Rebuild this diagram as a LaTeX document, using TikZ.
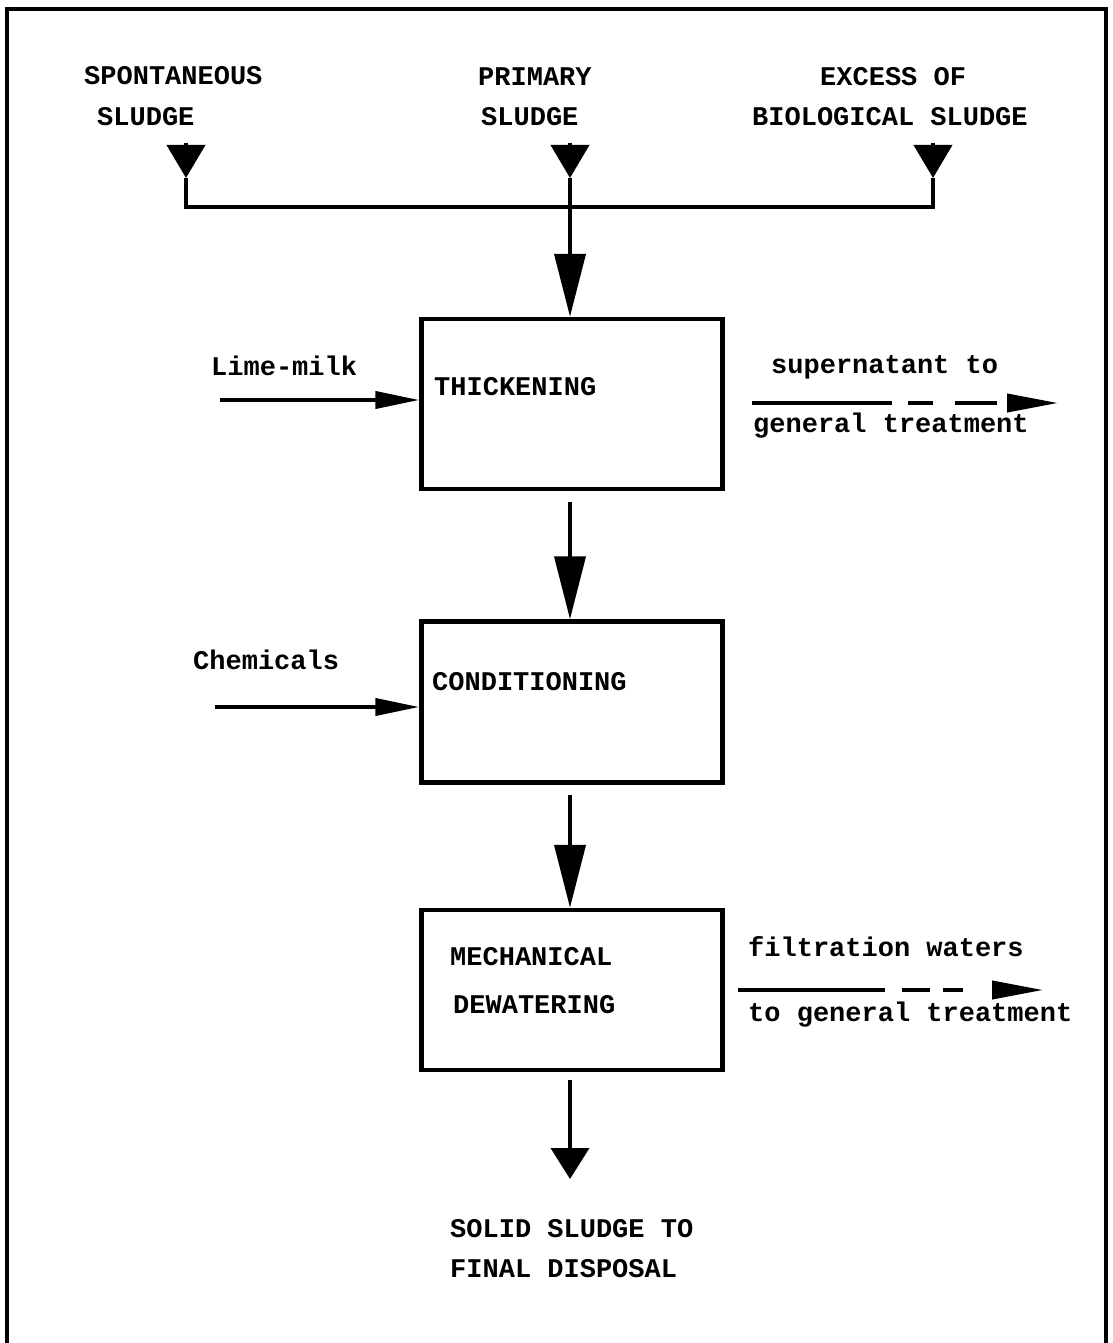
\documentclass[tikz,border=0pt]{standalone}
\usepackage{fontspec}
\setmonofont{Liberation Mono}
\usetikzlibrary{arrows.meta}
\begin{document}
\begin{tikzpicture}[x=1pt,y=-1pt,
  lbl/.style={font=\ttfamily\bfseries\fontsize{27}{31}\selectfont, inner sep=0pt, anchor=base west},
  procbox/.style={draw, line width=4.5pt, minimum width=301pt, inner sep=0pt},
  flow/.style={line width=4pt},
  srctip/.style={-{Triangle[length=33pt,width=38pt]}},
  bigtip/.style={-{Triangle[length=63pt,width=31pt]}},
  endtip/.style={-{Triangle[length=31pt,width=38pt]}},
  sidetip/.style={-{Triangle[length=44pt,width=17pt]}},
  outtip/.style={-{Triangle[length=51pt,width=18pt]}}
]
\useasboundingbox (0,0) rectangle (1112,1343);
% frame
\draw[line width=4pt] (7,1343) -- (7,9) -- (1106,9) -- (1106,1343);

% source labels
\node[lbl] (l1a) at (84,85) {SPONTANEOUS};
\node[lbl] (l1b) at (97,126) {SLUDGE};
\node[lbl] (l2a) at (478,86) {PRIMARY};
\node[lbl] (l2b) at (481,126) {SLUDGE};
\node[lbl] (l3a) at (820,86) {EXCESS OF};
\node[lbl] (l3b) at (752,126) {BIOLOGICAL SLUDGE};

% source coordinates
\coordinate (s1a) at (186,143);
\coordinate (s1b) at (186,178);
\coordinate (j1) at (186,207);
\coordinate (s2a) at (570,143);
\coordinate (s2b) at (570,178);
\coordinate (j2) at (570,207);
\coordinate (s3a) at (933,143);
\coordinate (s3b) at (933,178);
\coordinate (j3) at (933,207);

% boxes
\node[procbox, minimum height=170pt] (thick) at (572,404) {};
\node[procbox, minimum height=161pt] (cond) at (572,702) {};
\node[procbox, minimum height=160pt] (mech) at (572,990) {};

% box texts
\node[lbl] (tthick) at (434,395) {THICKENING};
\node[lbl] (tcond) at (432,690) {CONDITIONING};
\node[lbl] (tmech1) at (450,965) {MECHANICAL};
\node[lbl] (tmech2) at (453,1013) {DEWATERING};

% side labels
\node[lbl] (lime) at (211,375) {Lime-milk};
\node[lbl] (chem) at (193,669) {Chemicals};
\node[lbl] (sup1) at (771,373) {supernatant to};
\node[lbl] (sup2) at (753,432) {general treatment};
\node[lbl] (fil1) at (748,956) {filtration waters};
\node[lbl] (fil2) at (748,1021) {to general treatment};
\node[lbl] (out1) at (450,1237) {SOLID SLUDGE TO};
\node[lbl] (out2) at (450,1277) {FINAL DISPOSAL};

% source triangles and collector
\draw[flow, srctip] (s1a) -- (s1b);
\draw[flow, srctip] (s2a) -- (s2b);
\draw[flow, srctip] (s3a) -- (s3b);
\draw[flow] (s1b) -- (j1) -- (j3) -- (s3b);
\draw[flow, bigtip] (s2b) -- (thick.north -| j2);

% main flow
\draw[flow, bigtip] ([yshift=-11pt]thick.south -| j2) -- (cond.north -| j2);
\draw[flow, bigtip] ([yshift=-10pt]cond.south -| j2) -- (mech.north -| j2);
\coordinate (endp) at (570,1179);
\draw[flow, endtip] ([yshift=-8pt]mech.south -| j2) -- (endp);

% side inputs
\coordinate (limest) at (220,400);
\coordinate (chemst) at (215,707);
\draw[flow, sidetip] (limest) -- (limest -| thick.west);
\draw[flow, sidetip] (chemst) -- (chemst -| cond.west);

% outputs (dashed)
\coordinate (supa) at (752,403);
\coordinate (supb) at (1058,403);
\draw[flow, outtip, dash pattern=on 140pt off 16pt on 25pt off 22pt on 42pt off 20pt] (supa) -- (supb);
\coordinate (fila) at (738,990);
\coordinate (filb) at (1043,990);
\draw[flow, outtip, dash pattern=on 147pt off 17pt on 28pt off 13pt on 20pt off 30pt] (fila) -- (filb);
\end{tikzpicture}
\end{document}
